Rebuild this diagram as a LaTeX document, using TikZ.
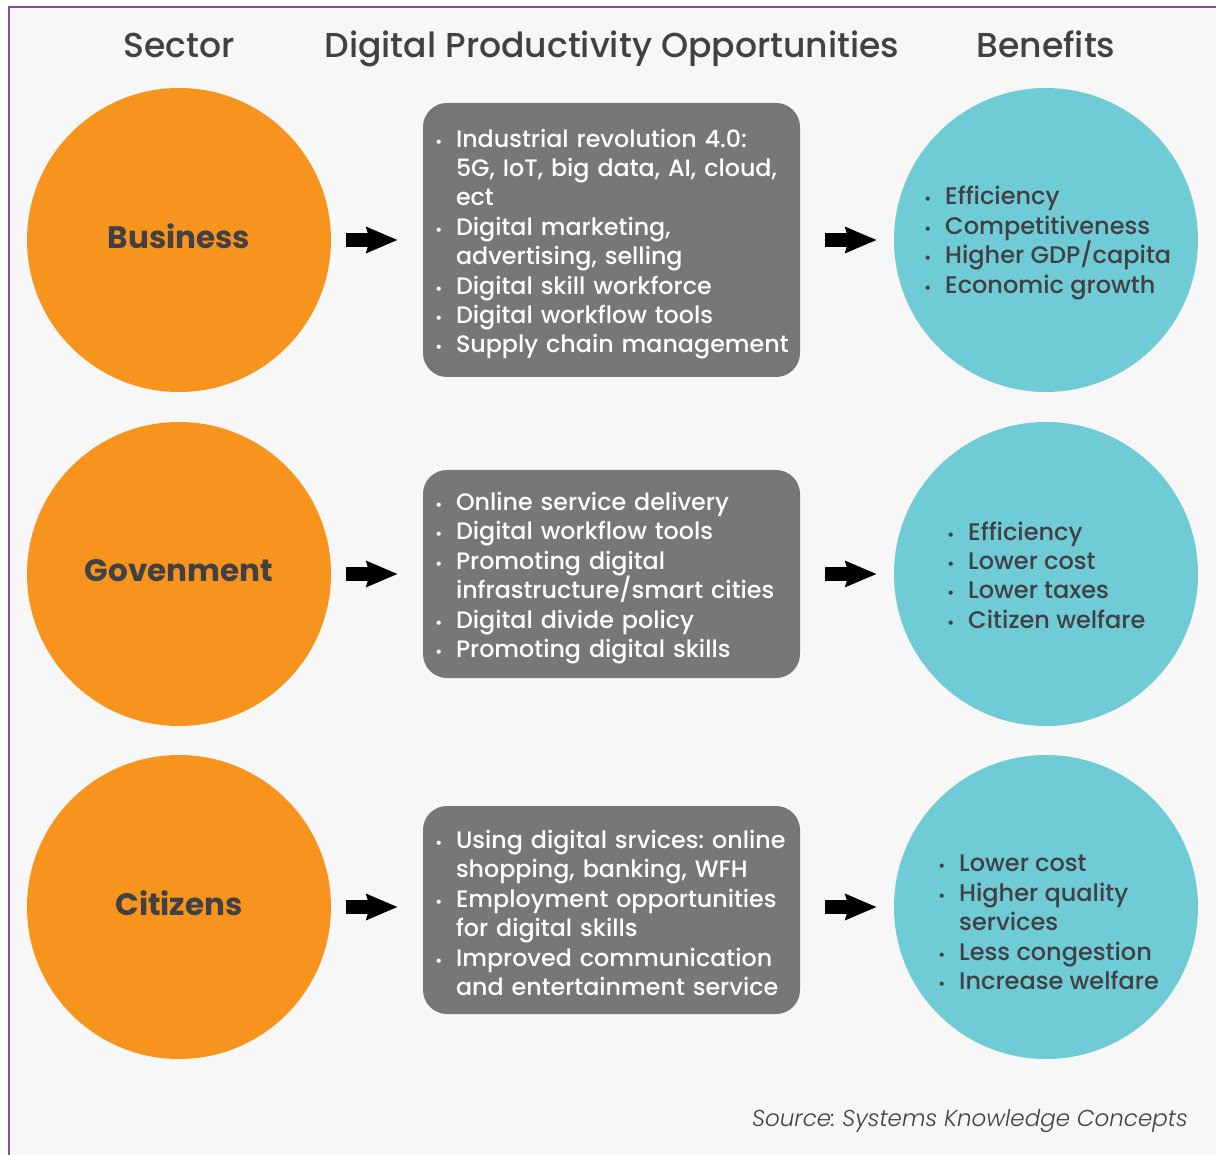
\documentclass[tikz,border=0pt]{standalone}
\usepackage{fontspec}
\setmainfont{Poppins}[UprightFont={* Medium}, BoldFont={* Bold}, ItalicFont={* Light Italic}]
\usetikzlibrary{arrows.meta}
\frenchspacing
\hyphenpenalty=10000

\definecolor{setor}{HTML}{F7941E}
\definecolor{beneficio}{HTML}{6FCBD5}
\definecolor{caixa}{HTML}{777777}
\definecolor{texto}{HTML}{414042}
\definecolor{fundo}{HTML}{F7F7F7}
\definecolor{moldura}{HTML}{8F4A9E}

\newcommand{\bul}{\makebox[25pt][l]{\hspace{4pt}\fontsize{16}{16}\selectfont\textbullet}}
\newcommand{\ind}{\hspace*{25pt}}

\tikzset{
  header/.style={text=texto, anchor=base, font=\fontsize{34.6}{35}\selectfont},
  sector/.style={circle, fill=setor, minimum size=304pt, inner sep=0pt, text=texto,
    text depth=8pt, font=\fontsize{31}{31}\selectfont\bfseries},
  benefit/.style={circle, fill=beneficio, minimum size=304pt, inner sep=0pt},
  opbox/.style={rounded corners=24pt, fill=caixa, minimum width=377pt, inner sep=0pt},
  optext/.style={text=white, text width=361pt, inner sep=0pt, align=left,
    font=\fontsize{23.8}{29.4}\selectfont},
  bentext/.style={text=texto, anchor=west, align=left, inner sep=0pt,
    font=\fontsize{24}{29.4}\selectfont},
  bigarrow/.style={-{Stealth[length=31pt,width=25pt,inset=3pt]}, line width=14pt, black},
}

\begin{document}
\begin{tikzpicture}[x=1pt,y=-1pt]

  % fundo e moldura
  \useasboundingbox (0,0) rectangle (1216,1155);
  \fill[fundo] (9,7) rectangle (1216,1155);
  \draw[moldura, line width=2pt] (9,1155) -- (9,7) -- (1216,7);

  % titulos
  \node[header] (hsec) at (179,58) {Sector};
  \node[header] (hdig) at (612,58) {Digital Productivity Opportunities};
  \node[header] (hben) at (1046,58) {Benefits};

  % Business
  \node[sector] (biz) at (179,240) {Business};
  \node[opbox, minimum height=274pt] (bizop) at (611.5,240) {};
  \node[optext] (bizoptxt) at ([yshift=-4pt]bizop.center) {%
    \bul Industrial revolution 4.0:\\
    \ind 5G, IoT, big data, AI, cloud,\\
    \ind ect\\
    \bul Digital marketing,\\
    \ind advertising, selling\\
    \bul Digital skill workforce\\
    \bul Digital workflow tools\\
    \bul Supply chain management};
  \node[benefit] (bizben) at (1046,240) {};
  \node[bentext] (bizlist) at (920,243) {%
    \bul Efficiency\\
    \bul Competitiveness\\
    \bul Higher GDP/capita\\
    \bul Economic growth};
  \draw[bigarrow, shorten <=15pt, shorten >=25pt] (biz) -- (bizop);
  \draw[bigarrow, shorten <=25pt, shorten >=17pt] (bizop) -- (bizben);

  % Govenment
  \node[sector] (gov) at (179,574) {Govenment};
  \node[opbox, minimum height=208pt] (govop) at (611.5,574) {};
  \node[optext] (govoptxt) at ([yshift=-4pt]govop.center) {%
    \bul Online service delivery\\
    \bul Digital workflow tools\\
    \bul Promoting digital\\
    \ind infrastructure/smart cities\\
    \bul Digital divide policy\\
    \bul Promoting digital skills};
  \node[benefit] (govben) at (1046,574) {};
  \node[bentext] (govlist) at (943,575) {%
    \bul Efficiency\\
    \bul Lower cost\\
    \bul Lower taxes\\
    \bul Citizen welfare};
  \draw[bigarrow, shorten <=15pt, shorten >=25pt] (gov) -- (govop);
  \draw[bigarrow, shorten <=25pt, shorten >=17pt] (govop) -- (govben);

  % Citizens
  \node[sector] (cit) at (179,907) {Citizens};
  \node[opbox, minimum height=208pt] (citop) at (611.5,910) {};
  \node[optext] (citoptxt) at ([yshift=-3pt]citop.center) {%
    \bul Using digital srvices: online\\
    \ind shopping, banking, WFH\\
    \bul Employment opportunities\\
    \ind for digital skills\\
    \bul Improved communication\\
    \ind and entertainment service};
  \node[benefit] (citben) at (1046,907) {};
  \node[bentext] (citlist) at (934,922.5) {%
    \bul Lower cost\\
    \bul Higher quality\\
    \ind services\\
    \bul Less congestion\\
    \bul Increase welfare};
  \draw[bigarrow, shorten <=15pt, shorten >=25pt] (cit) -- (cit -| citop.west);
  \draw[bigarrow, shorten <=25pt, shorten >=17pt] (citop.east |- citben) -- (citben);

  % fonte
  \node[anchor=base east, inner sep=0pt, text=texto, font=\fontsize{23}{23}\selectfont\itshape]
    (src) at (1188,1126) {Source: Systems Knowledge Concepts};

\end{tikzpicture}
\end{document}
